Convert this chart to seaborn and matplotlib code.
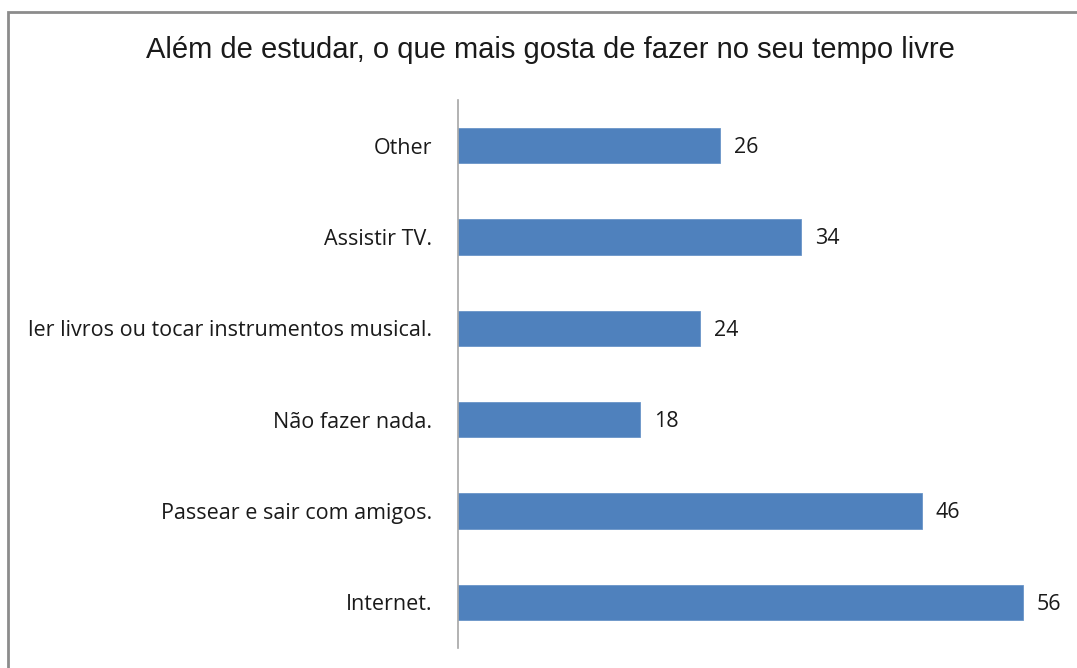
import matplotlib
matplotlib.use("Agg")
import matplotlib.pyplot as plt
import seaborn as sns
import pandas as pd
from matplotlib.patches import Rectangle

categories = ["Other", "Assistir TV.", "ler livros ou tocar instrumentos musical.",
              "Não fazer nada.", "Passear e sair com amigos.", "Internet."]
values = [26, 34, 24, 18, 46, 56]
title = "Além de estudar, o que mais gosta de fazer no seu tempo livre"

sns.set_theme(style="white")
plt.rcParams['font.family'] = ['Open Sans', 'DejaVu Sans']

df = pd.DataFrame({"cat": categories, "val": values})

fig = plt.figure(figsize=(10.77, 6.68), dpi=100)
W, H = 1077, 668
ax = fig.add_axes([458 / W, 1 - 648 / H, (1063 - 458) / W, (648 - 100) / H])

sns.barplot(data=df, y="cat", x="val", orient="h", color="#4f81bd",
            saturation=1, width=0.39, ax=ax, edgecolor="#6a95c8", linewidth=0.6)

ax.set_xlim(0, 60)
ax.set_ylim(5.5, -0.5)
ax.set_xlabel("")
ax.set_ylabel("")
ax.set_xticks([])
for s in ["top", "right", "bottom"]:
    ax.spines[s].set_visible(False)
ax.spines["left"].set_color("#a6a6a6")
ax.spines["left"].set_linewidth(1.2)
ax.tick_params(axis="y", length=0, pad=18.7, labelsize=15.5, labelcolor="#1a1a1a")

for i, v in enumerate(values):
    ax.text(v + 1.4, i + 0.02, str(v), va="center", ha="left", fontsize=15.5, color="#1a1a1a")

fig.text(550 / W, 1 - 50 / H, title, ha="center", va="center",
         fontsize=21, family=["Liberation Sans", "DejaVu Sans"], color="#1a1a1a")

fig.patches.append(Rectangle((8 / W, -0.05), 1.2, 1.05 - 12 / H, transform=fig.transFigure,
                             fill=False, edgecolor="#8c8c8c", linewidth=2, figure=fig))

fig.savefig("out.png", dpi=100)
